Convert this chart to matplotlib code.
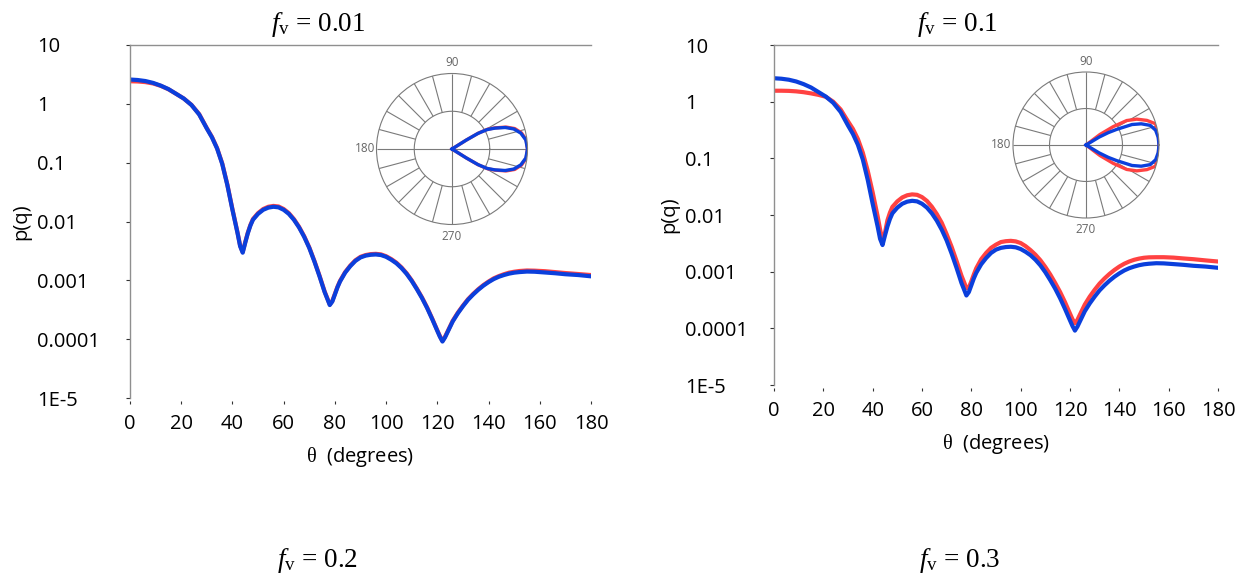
#!/usr/bin/env python3
"""
Phase function p(q) vs scattering angle for two volume fractions,
with small polar insets of the forward lobe.
"""

import numpy as np
import matplotlib
matplotlib.use("Agg")
import matplotlib.pyplot as plt
import matplotlib.ticker as ticker


# ── data ────────────────────────────────────────────────────────────────────

THETA = [0, 3, 6, 9, 12, 15, 18, 21, 24, 27,
         30, 32, 34, 36, 38, 40, 42, 43, 44, 45,
         46, 47, 48, 50, 52, 54, 56, 58, 60, 62,
         64, 66, 68, 70, 72, 74, 76, 77, 78, 79,
         80, 81, 82, 84, 86, 88, 90, 92, 94, 96,
         98, 100, 102, 104, 106, 108, 110, 112, 114, 116,
         118, 120, 121, 122, 123, 124, 126, 128, 130, 132,
         134, 136, 138, 140, 142, 144, 146, 148, 150, 152,
         155, 158, 162, 166, 170, 175, 180]

# single particle (blue)
P_SINGLE = [2.59, 2.54, 2.44, 2.27, 2.04, 1.78, 1.48, 1.23, 0.955, 0.66,
            0.380, 0.269, 0.174, 0.0955, 0.0417, 0.0158, 0.00631, 0.0038, 0.00295, 0.00437,
            0.00631, 0.00851, 0.0107, 0.0135, 0.0158, 0.0172, 0.0178, 0.0174, 0.0158, 0.0135,
            0.0107, 0.00794, 0.0055, 0.00355, 0.00209, 0.00117, 0.000631, 0.00049, 0.00038, 0.000437,
            0.000575, 0.000759, 0.000955, 0.00135, 0.00174, 0.00214, 0.00245, 0.00263, 0.00272, 0.00275,
            0.00269, 0.00251, 0.00224, 0.00195, 0.00162, 0.00129, 0.000977, 0.000708, 0.000501, 0.000339,
            0.000219, 0.000138, 0.00011, 0.0000912, 0.000107, 0.000132, 0.0002, 0.000275, 0.000363, 0.000468,
            0.000575, 0.000692, 0.000813, 0.000933, 0.00105, 0.00115, 0.00123, 0.0013, 0.00135, 0.00138,
            0.00141, 0.0014, 0.00136, 0.00132, 0.00127, 0.00123, 0.00117]

# f_v = 0.01 (red)
P_FV001 = [2.42, 2.40, 2.34, 2.22, 2.02, 1.77, 1.48, 1.23, 0.96, 0.67,
           0.386, 0.274, 0.177, 0.0975, 0.0427, 0.0162, 0.00646, 0.0039, 0.00302, 0.00447,
           0.00646, 0.00871, 0.0110, 0.0139, 0.0163, 0.0178, 0.0184, 0.0180, 0.0163, 0.0139,
           0.0110, 0.00813, 0.00563, 0.00363, 0.00214, 0.0012, 0.000646, 0.000501, 0.000389, 0.000447,
           0.000589, 0.000776, 0.000977, 0.00138, 0.00178, 0.00219, 0.00251, 0.00269, 0.00279, 0.00282,
           0.00276, 0.00257, 0.0023, 0.0020, 0.00166, 0.00132, 0.0010, 0.000725, 0.000513, 0.000347,
           0.000224, 0.000141, 0.000113, 0.0000933, 0.00011, 0.000135, 0.000205, 0.000282, 0.000372, 0.000479,
           0.000589, 0.000708, 0.000832, 0.000955, 0.00108, 0.00118, 0.00127, 0.00135, 0.0014, 0.00144,
           0.00147, 0.00146, 0.00143, 0.00138, 0.00133, 0.00128, 0.00123]

# f_v = 0.1 (red)
P_FV01 = [1.56, 1.56, 1.55, 1.52, 1.47, 1.40, 1.32, 1.22, 1.0, 0.73,
          0.45, 0.33, 0.22, 0.126, 0.0603, 0.0251, 0.00955, 0.0056, 0.00355, 0.0049,
          0.0081, 0.011, 0.0139, 0.0174, 0.0204, 0.0223, 0.0231, 0.0227, 0.0207, 0.0177,
          0.014, 0.0104, 0.0073, 0.00457, 0.00275, 0.00155, 0.000851, 0.000661, 0.000512, 0.000525,
          0.000676, 0.000891, 0.00115, 0.00166, 0.00214, 0.00263, 0.0030, 0.00333, 0.00345, 0.0035,
          0.00342, 0.0032, 0.00282, 0.0024, 0.00199, 0.00159, 0.00121, 0.000891, 0.000631, 0.000437,
          0.000288, 0.000182, 0.000145, 0.000123, 0.000141, 0.000174, 0.000263, 0.000363, 0.000479, 0.000617,
          0.000759, 0.000912, 0.00107, 0.00123, 0.00138, 0.00151, 0.00162, 0.0017, 0.00176, 0.00179,
          0.0018, 0.0018, 0.00177, 0.00171, 0.00166, 0.00158, 0.00151]

# polar inset lobes: angle (deg, upper half) and normalised radius
LOBE_PHI_A = [0, 7, 13, 18, 22, 26, 29, 31, 32, 33]
LOBE_R_A_SINGLE = [1.0, 0.985, 0.935, 0.86, 0.76, 0.63, 0.53, 0.40, 0.22, 0.0]
LOBE_R_A_FV = [1.0, 0.99, 0.945, 0.875, 0.775, 0.64, 0.54, 0.41, 0.23, 0.0]

LOBE_PHI_B_SINGLE = [0, 6, 12, 17, 21, 24, 27, 29, 31, 33]
LOBE_R_B_SINGLE = [1.0, 0.995, 0.975, 0.92, 0.81, 0.69, 0.47, 0.35, 0.21, 0.0]
LOBE_PHI_B_FV = [0, 8, 13, 17, 22, 27, 31, 34, 37, 40]
LOBE_R_B_FV = [1.0, 1.0, 1.0, 0.995, 0.90, 0.78, 0.65, 0.45, 0.24, 0.0]

YTICKS = [1e-5, 1e-4, 1e-3, 1e-2, 1e-1, 1, 10]
YTICK_LABELS = ["1E-5", "0.0001", "0.001", "0.01", "0.1", "1", "10"]
XTICKS = list(range(0, 181, 20))

FV_TOP = ["0.01", "0.1"]
FV_BOTTOM = ["0.2", "0.3"]

RED = "#ff4242"
BLUE = "#0b3fdc"
SPINE = "#8f8f8f"
GRID = "#7a7a7a"

W, H = 1248, 577


def px_rect(x0, y0, x1, y1):
    """pixel box (top-left origin) -> figure fraction rect"""
    return [x0 / W, 1 - y1 / H, (x1 - x0) / W, (y1 - y0) / H]


def setup_main(ax, ypad):
    ax.set_yscale("log")
    ax.set_xlim(0, 180)
    ax.set_ylim(1e-5, 10)
    ax.set_yticks(YTICKS, YTICK_LABELS, ha="left")
    ax.yaxis.set_minor_locator(ticker.NullLocator())
    ax.set_xticks(XTICKS)

    ax.spines["right"].set_visible(False)
    ax.spines["bottom"].set_visible(False)
    ax.spines["bottom"].set_position(("outward", 2))
    for s in ("top", "left"):
        ax.spines[s].set_color(SPINE)
        ax.spines[s].set_linewidth(1.0)

    ax.tick_params(axis="y", length=3, width=0.8, color="#333333",
                   pad=ypad, labelsize=14.5)
    ax.tick_params(axis="x", length=2.5, width=0.8, color="#333333",
                   pad=7, labelsize=14.5)
    ax.set_xlabel(r"$\mathrm{\theta}$  (degrees)", fontsize=14.5, labelpad=8)
    ax.set_ylabel("p(q)", fontsize=14.5, labelpad=4)


def polar_inset(fig, rect, lobes):
    pax = fig.add_axes(rect, projection="polar")
    pax.set_ylim(0, 1)
    pax.set_xticks([])
    pax.set_yticks([])
    pax.grid(False)
    pax.set_facecolor("white")
    pax.spines["polar"].set_color(GRID)
    pax.spines["polar"].set_linewidth(0.8)

    ring = np.linspace(0, 2 * np.pi, 200)
    pax.plot(ring, np.full_like(ring, 0.5), color=GRID, lw=0.8)
    spokes = [a for a in range(0, 360, 15) if a % 90]
    pax.vlines(np.deg2rad(spokes), 0.5, 1.0, color=GRID, lw=0.8)
    pax.vlines(np.deg2rad([0, 90, 180, 270]), 0, 1.0, color=GRID, lw=0.8)

    lab = dict(fontsize=8.5, color="#666666")
    pax.text(np.pi / 2, 1.06, "90", ha="center", va="bottom", **lab)
    pax.text(np.pi, 1.02, "180", ha="right", va="center", **lab)
    pax.text(3 * np.pi / 2, 1.07, "270", ha="center", va="top", **lab)

    for phi, r, color in lobes:
        phi = np.asarray(phi, dtype=float)
        r = np.asarray(r, dtype=float)
        ang = np.deg2rad(np.concatenate([-phi[::-1], phi]))
        rad = np.concatenate([r[::-1], r])
        pax.plot(ang, rad, color=color, lw=2.4, solid_joinstyle="round")
    return pax


def main():
    plt.rcParams["font.family"] = ["Open Sans", "DejaVu Sans"]
    plt.rcParams["mathtext.fontset"] = "custom"
    plt.rcParams["mathtext.rm"] = "Liberation Serif"
    plt.rcParams["mathtext.it"] = "Liberation Serif:italic"

    fig = plt.figure(figsize=(W / 100, H / 100), dpi=100)

    ax1 = fig.add_axes(px_rect(130, 45, 591, 398))
    ax2 = fig.add_axes(px_rect(774, 45, 1218, 385))

    for ax, p_red, ypad in ((ax1, P_FV001, 64), (ax2, P_FV01, 61)):
        ax.plot(THETA, p_red, color=RED, lw=3, solid_joinstyle="round")
        ax.plot(THETA, P_SINGLE, color=BLUE, lw=3, solid_joinstyle="round")
        setup_main(ax, ypad)

    polar_inset(fig, px_rect(376.5, 73.5, 527.5, 224.5),
                [(LOBE_PHI_A, LOBE_R_A_FV, RED),
                 (LOBE_PHI_A, LOBE_R_A_SINGLE, BLUE)])
    polar_inset(fig, px_rect(1013, 72, 1159, 218),
                [(LOBE_PHI_B_FV, LOBE_R_B_FV, RED),
                 (LOBE_PHI_B_SINGLE, LOBE_R_B_SINGLE, BLUE)])

    title = dict(ha="center", va="baseline", fontsize=19.5,
                 family="Liberation Serif")
    for xc, fv in zip((318, 957), FV_TOP):
        fig.text(xc / W, 1 - 31 / H, rf"$f_{{\mathrm{{v}}}}$ = {fv}", **title)
    for xc, fv in zip((318, 960), FV_BOTTOM):
        fig.text(xc / W, 1 - 567 / H, rf"$f_{{\mathrm{{v}}}}$ = {fv}", **title)

    fig.savefig("out.png", dpi=100, facecolor="white")
    plt.close(fig)


if __name__ == "__main__":
    main()
